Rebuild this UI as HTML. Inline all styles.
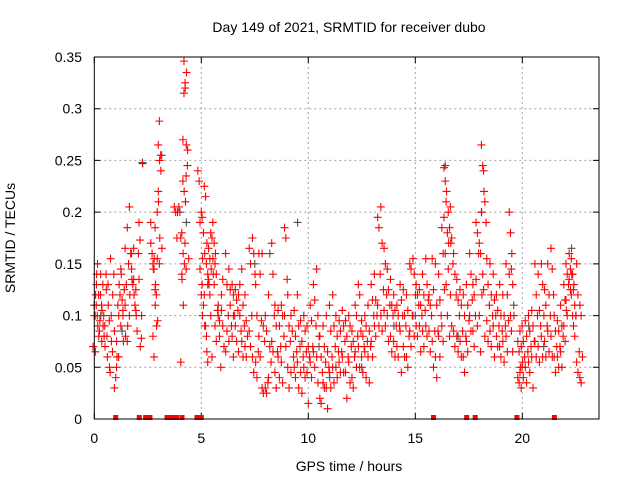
<!DOCTYPE html>
<html><head><meta charset="utf-8"><style>
html,body{margin:0;padding:0;background:#fff;width:640px;height:480px;overflow:hidden}
svg{display:block;font-family:"Liberation Sans",sans-serif}
</style></head><body>
<svg id="chart" width="640" height="480" viewBox="0 0 640 480" xmlns="http://www.w3.org/2000/svg">
<rect x="0" y="0" width="640" height="480" fill="#fff"/>
<text x="349" y="32" font-size="14" text-anchor="middle" fill="#000">Day 149 of 2021, SRMTID for receiver dubo</text>
<text x="0" y="0" font-size="14" text-anchor="middle" fill="#000" transform="translate(15,238) rotate(-90)">SRMTID / TECUs</text>
<text x="349" y="471" font-size="14" text-anchor="middle" fill="#000">GPS time / hours</text>
<g id="grid"></g>
<g id="ticks"></g>
<g id="gray"></g>
<g id="red"></g>
<rect x="94.3" y="57" width="504.7" height="362" fill="none" stroke="#000" stroke-width="1"/>
</svg>
<script>
var xTicks=[0,5,10,15,20];
var yTicks=[0,0.05,0.1,0.15,0.2,0.25,0.3,0.35];
var yTickLabels=["0","0.05","0.1","0.15","0.2","0.25","0.3","0.35"];
var redT=[0,0.05,0.1,0.15,0.2,0.3,0.35,0.4,0.5,0.55,0.65,0.7,0.8,0.85,1.0,1.1,1.2,1.3,1.4,1.5,1.6,1.7,1.8,1.9,2.0,2.15,2.2,2.7,2.8,2.85,2.9,3.0,3.05,3.1,3.8,3.95,4.1,4.15,4.2,4.25,4.3,4.35,4.9,5.0,5.1,5.2,5.3,5.4,5.5,5.6,5.7,5.85,6.0,6.2,6.35,6.5,6.65,6.8,6.95,7.1,7.3,7.45,7.6,7.75,7.9,8.05,8.2,8.35,8.5,8.65,8.8,8.95,9.1,9.25,9.4,9.55,9.7,9.85,10.0,10.15,10.3,10.45,10.6,10.75,10.9,11.05,11.2,11.35,11.5,11.65,11.8,11.95,12.1,12.25,12.4,12.55,12.7,12.85,13.0,13.15,13.3,13.45,13.6,13.75,13.9,14.05,14.2,14.35,14.5,14.65,14.8,14.95,15.1,15.25,15.4,15.55,15.7,15.85,16.0,16.15,16.3,16.4,16.5,16.6,16.7,16.85,17.0,17.15,17.3,17.45,17.6,17.75,17.9,18.05,18.15,18.25,18.4,18.55,18.7,18.85,19.0,19.15,19.3,19.45,19.55,19.85,19.95,20.05,20.2,20.35,20.5,20.65,20.8,20.95,21.1,21.25,21.4,21.55,21.7,21.85,22.0,22.1,22.25,22.35,22.45,22.6,22.75];
var redV=[[0.07,0.1,0.12],[0.11,0.065,0.14],[0.1,0.13,0.09],[0.11,0.15,0.08],[0.1,0.12,0.095],[0.085,0.14,0.105],[0.12,0.075,0.09],[0.11,0.13,0.08],[0.1,0.07,0.125],[0.09,0.14,0.06],[0.08,0.11,0.05],[0.13,0.095,0.155],[0.045,0.075,0.12],[0.1,0.065,0.14],[0.03,0.04,0.06,0.085],[0.075,0.11,0.13,0.05],[0.1,0.12,0.14,0.06],[0.09,0.115,0.075,0.145],[0.1,0.125,0.08,0.105],[0.11,0.13,0.09,0.165],[0.185,0.15,0.12,0.075],[0.205,0.16,0.135,0.1],[0.16,0.13,0.12,0.145],[0.165,0.11,0.1,0.135],[0.125,0.085,0.16,0.105],[0.19,0.07,0.1,0.135],[0.173,0.078,0.247],[0.17,0.16,0.145,0.19],[0.15,0.155,0.13,0.08],[0.145,0.11,0.09,0.06],[0.125,0.12,0.095,0.185],[0.2,0.21,0.175,0.155],[0.265,0.25,0.24,0.22],[0.288,0.255,0.165,0.15],[0.205,0.2,0.175],[0.2,0.205],[0.175,0.135,0.11,0.055],[0.18,0.16,0.15,0.14],[0.23,0.22,0.21,0.27],[0.315,0.32,0.335,0.346],[0.325,0.265,0.26,0.17],[0.235,0.245,0.155,0.145],[0.24,0.23],[0.19,0.2,0.155,0.145,0.12,0.1],[0.195,0.18,0.16,0.13,0.11,0.09],[0.225,0.215,0.17,0.12,0.09,0.065],[0.15,0.14,0.13,0.08,0.055],[0.165,0.155,0.145,0.135,0.12],[0.18,0.175,0.14,0.1,0.06],[0.19,0.17,0.16,0.155,0.13],[0.15,0.14,0.105,0.09,0.075],[0.1,0.08,0.05,0.11,0.095],[0.105,0.09,0.07,0.12,0.135],[0.16,0.13,0.1,0.065,0.085],[0.145,0.125,0.09,0.075,0.11],[0.13,0.12,0.1,0.08,0.06],[0.125,0.115,0.105,0.09,0.075],[0.12,0.1,0.085,0.065,0.13],[0.145,0.11,0.09,0.075,0.06],[0.12,0.095,0.08,0.07,0.06],[0.165,0.15,0.1,0.085,0.07],[0.175,0.16,0.14,0.06,0.045],[0.13,0.1,0.065,0.055,0.04],[0.16,0.14,0.095,0.08,0.06],[0.16,0.09,0.075,0.03,0.025],[0.1,0.085,0.035,0.03,0.025],[0.12,0.07,0.055,0.04],[0.17,0.14,0.1,0.075,0.065],[0.11,0.09,0.065,0.045,0.03],[0.105,0.09,0.07,0.06,0.04],[0.11,0.1,0.08,0.055,0.035],[0.185,0.175,0.135,0.1,0.07],[0.12,0.09,0.075,0.05,0.03],[0.1,0.085,0.06,0.045],[0.105,0.08,0.065,0.05,0.04],[0.12,0.09,0.07,0.055,0.03],[0.095,0.075,0.06,0.045,0.025],[0.1,0.085,0.065,0.05,0.04],[0.09,0.07,0.06,0.045,0.015],[0.11,0.095,0.07,0.055,0.04],[0.13,0.115,0.09,0.065,0.05],[0.145,0.1,0.08,0.06,0.035],[0.08,0.06,0.045,0.02,0.015],[0.09,0.07,0.055,0.035,0.03],[0.1,0.065,0.05,0.03,0.01],[0.11,0.085,0.06,0.045,0.03],[0.12,0.09,0.07,0.05,0.035],[0.1,0.08,0.065,0.05,0.04],[0.095,0.085,0.065,0.055,0.045],[0.105,0.09,0.075,0.06,0.045],[0.095,0.08,0.06,0.045,0.02],[0.1,0.09,0.07,0.055,0.035],[0.085,0.075,0.06,0.04,0.03],[0.11,0.1,0.08,0.065,0.05],[0.13,0.12,0.085,0.07,0.05],[0.095,0.08,0.07,0.06,0.045],[0.1,0.09,0.075,0.065,0.04],[0.11,0.085,0.07,0.06,0.035],[0.13,0.115,0.1,0.075,0.06],[0.14,0.115,0.1,0.09,0.08],[0.195,0.185,0.14,0.11,0.09],[0.205,0.17,0.125,0.1,0.085],[0.165,0.15,0.12,0.105,0.09],[0.145,0.125,0.11,0.1,0.075],[0.135,0.11,0.1,0.08,0.065],[0.12,0.105,0.09,0.075,0.06],[0.11,0.1,0.09,0.07,0.06],[0.13,0.115,0.1,0.085,0.045],[0.125,0.1,0.09,0.07,0.06],[0.12,0.105,0.08,0.06,0.05],[0.15,0.145,0.1,0.085,0.07],[0.155,0.14,0.12,0.1,0.08],[0.13,0.12,0.11,0.09,0.08],[0.125,0.11,0.1,0.09,0.065],[0.14,0.12,0.105,0.085,0.07],[0.155,0.13,0.115,0.09,0.08],[0.12,0.11,0.1,0.085,0.065],[0.155,0.125,0.085,0.075,0.05],[0.15,0.11,0.085,0.06,0.04],[0.14,0.115,0.1,0.08,0.06],[0.185,0.16,0.125,0.09,0.075],[0.243,0.23,0.22,0.195,0.16],[0.21,0.18,0.17,0.13,0.1],[0.2,0.185,0.17,0.145,0.08],[0.205,0.175,0.15,0.12,0.09],[0.16,0.14,0.12,0.085,0.07],[0.135,0.115,0.1,0.08,0.065],[0.125,0.11,0.085,0.075,0.06],[0.12,0.1,0.08,0.06,0.045],[0.13,0.11,0.095,0.075,0.065],[0.16,0.14,0.115,0.1,0.085],[0.13,0.12,0.1,0.085,0.07],[0.19,0.18,0.16,0.135,0.09],[0.17,0.16,0.12,0.1,0.065],[0.265,0.245,0.22,0.2,0.14],[0.24,0.21,0.19,0.125,0.08],[0.155,0.13,0.11,0.095,0.075],[0.15,0.12,0.1,0.085,0.07],[0.14,0.115,0.1,0.09,0.06],[0.12,0.105,0.09,0.08,0.07],[0.13,0.1,0.085,0.07,0.06],[0.12,0.1,0.09,0.075,0.055],[0.15,0.12,0.095,0.08,0.065],[0.2,0.18,0.16,0.14,0.1],[0.145,0.13,0.1,0.085,0.065],[0.075,0.065,0.05,0.04,0.035],[0.085,0.07,0.055,0.045,0.03],[0.09,0.075,0.06,0.05,0.04],[0.095,0.08,0.065,0.05,0.035],[0.1,0.085,0.07,0.055,0.045],[0.105,0.09,0.075,0.06,0.03],[0.15,0.12,0.1,0.075,0.06],[0.14,0.105,0.09,0.07,0.055],[0.15,0.13,0.1,0.08,0.06],[0.125,0.11,0.09,0.075,0.06],[0.15,0.12,0.1,0.085,0.065],[0.165,0.145,0.12,0.08,0.06],[0.1,0.085,0.07,0.06,0.045],[0.095,0.085,0.07,0.06,0.05],[0.11,0.09,0.08,0.065,0.05],[0.13,0.115,0.105,0.09,0.075],[0.15,0.14,0.13,0.115,0.1],[0.16,0.145,0.14,0.135,0.125],[0.155,0.14,0.13,0.12,0.1],[0.125,0.11,0.1,0.09,0.08],[0.15,0.12,0.065,0.055,0.045],[0.11,0.1,0.06,0.04,0.035]];
var zeroT=[1.0,2.1,2.4,2.6,3.4,3.6,3.75,3.85,4.1,4.8,4.85,4.9,4.95,5.0,15.85,17.4,17.8,19.75,21.5];
var grayT=[0.3,1.3,2.25,3.15,4.0,4.3,5.3,6.5,7.5,8.2,9.5,10.5,11.0,12.5,14.0,15.0,16.4,17.0,18.1,19.6,20.3,21.0,22.3,22.5];
var grayV=[0.1,0.085,0.248,0.255,0.2,0.19,0.13,0.1,0.15,0.16,0.19,0.07,0.04,0.05,0.09,0.1,0.245,0.08,0.2,0.11,0.09,0.07,0.165,0.1];

var NS="http://www.w3.org/2000/svg";
var L=94.3,R=599,T=57,B=419,XMAX=(R-L)/21.4,YMAX=0.35;
function xs(t){return L+t/XMAX*(R-L);}
function ys(v){return B-v/YMAX*(B-T);}
function mk(tag,attrs,parent){var e=document.createElementNS(NS,tag);for(var k in attrs)e.setAttribute(k,attrs[k]);parent.appendChild(e);return e;}
var grid=document.getElementById('grid'),ticks=document.getElementById('ticks');
xTicks.forEach(function(t){
  var x=xs(t);
  if(t>0){var g=mk('line',{x1:x,y1:T,x2:x,y2:B,stroke:'#a0a0a0','stroke-dasharray':'2,3','stroke-width':1},grid);
  
  }
  var tk=mk('path',{d:'M'+x+' '+B+'v-6M'+x+' '+T+'v6',stroke:'#000','stroke-width':1},ticks);
  
  
  var lb=mk('text',{x:x,y:443,'font-size':14,'text-anchor':'middle',fill:'#000'},ticks);lb.textContent=String(t);
  
  
});
yTicks.forEach(function(v,i){
  var y=ys(v);
  if(v>0&&v<YMAX){var g=mk('line',{x1:L,y1:y,x2:R,y2:y,stroke:'#a0a0a0','stroke-dasharray':'2,3','stroke-width':1},grid);
  
  }
  var tk=mk('path',{d:'M'+L+' '+y+'h6M'+R+' '+y+'h-6',stroke:'#000','stroke-width':1},ticks);
  
  
  var lb=mk('text',{x:82,y:y+5,'font-size':14,'text-anchor':'end',fill:'#000'},ticks);lb.textContent=yTickLabels[i];
  
  
});
function plus(g,t,v,col,name){
  var x=xs(t),y=ys(v);
  var p=mk('path',{d:'M'+(x-4)+' '+y+'h8M'+x+' '+(y-4)+'v8',stroke:col,'stroke-width':1.1,fill:'none'},g);
  
  
}
var gg=document.getElementById('gray'),rg=document.getElementById('red');
grayT.forEach(function(t,i){plus(gg,t,grayV[i],'#505050','gray-point');});
redT.forEach(function(t,i){redV[i].forEach(function(v,k){plus(rg,t+((k%3)-1)*0.06,v,'#ff0000','red-point');});});
zeroT.forEach(function(t){
  var r=mk('rect',{x:xs(t)-2.5,y:B-4,width:5,height:5,fill:'#ff0000'},rg);
  
  
});
</script>
</body></html>
